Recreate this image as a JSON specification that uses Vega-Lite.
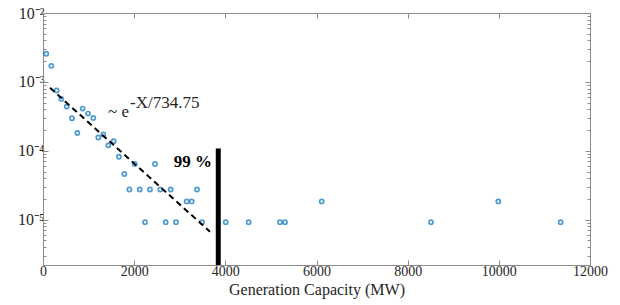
{
  "$schema": "https://vega.github.io/schema/vega-lite/v6.json",
  "width": 547,
  "height": 252,
  "autosize": {"type": "none"},
  "padding": {"left": 43, "top": 13, "right": 30, "bottom": 40},
  "background": "white",
  "config": {
    "view": {"stroke": null},
    "axis": {
      "domainColor": "#8c8c8c",
      "tickColor": "#8c8c8c",
      "labelColor": "#262626",
      "titleColor": "#262626",
      "labelFont": "Liberation Serif",
      "titleFont": "Liberation Serif",
      "grid": false
    }
  },
  "datasets": {
    "pts": [
      {"capacity": 72, "prob": 0.00256},
      {"capacity": 182, "prob": 0.00171},
      {"capacity": 300, "prob": 0.00075},
      {"capacity": 402, "prob": 0.000566},
      {"capacity": 519, "prob": 0.000438},
      {"capacity": 636, "prob": 0.000297},
      {"capacity": 753, "prob": 0.000182},
      {"capacity": 870, "prob": 0.00041},
      {"capacity": 987, "prob": 0.000347},
      {"capacity": 1104, "prob": 0.0003},
      {"capacity": 1213, "prob": 0.000156},
      {"capacity": 1323, "prob": 0.000173},
      {"capacity": 1433, "prob": 0.00012},
      {"capacity": 1550, "prob": 0.000138},
      {"capacity": 1667, "prob": 0.000082},
      {"capacity": 1784, "prob": 0.000046},
      {"capacity": 2011, "prob": 0.0000645},
      {"capacity": 2457, "prob": 0.0000645},
      {"capacity": 1894, "prob": 0.0000274},
      {"capacity": 2121, "prob": 0.0000274},
      {"capacity": 2347, "prob": 0.0000274},
      {"capacity": 2573, "prob": 0.0000274},
      {"capacity": 2801, "prob": 0.0000274},
      {"capacity": 3378, "prob": 0.0000274},
      {"capacity": 3152, "prob": 0.0000184},
      {"capacity": 3261, "prob": 0.0000184},
      {"capacity": 2238, "prob": 0.0000092},
      {"capacity": 2691, "prob": 0.0000092},
      {"capacity": 2917, "prob": 0.0000092},
      {"capacity": 3488, "prob": 0.0000092},
      {"capacity": 4008, "prob": 0.0000092},
      {"capacity": 4512, "prob": 0.0000092},
      {"capacity": 5199, "prob": 0.0000092},
      {"capacity": 5309, "prob": 0.0000092},
      {"capacity": 6114, "prob": 0.0000184},
      {"capacity": 8512, "prob": 0.0000092},
      {"capacity": 9988, "prob": 0.0000184},
      {"capacity": 11357, "prob": 0.0000092}
    ],
    "fit": [
      {"capacity": 154, "prob": 0.00082},
      {"capacity": 3664, "prob": 0.0000067}
    ],
    "bar": [
      {"capacity": 3845, "prob": 0.000108, "prob2": 0.0000022}
    ]
  },
  "layer": [
    {
      "data": {"name": "pts"},
      "mark": {"type": "point", "filled": false, "stroke": "#0072BD", "strokeWidth": 1.7, "size": 17},
      "encoding": {
        "x": {
          "field": "capacity", "type": "quantitative",
          "scale": {"domain": [0, 12000], "nice": false, "zero": false},
          "axis": {
            "orient": "bottom",
            "values": [0, 2000, 4000, 6000, 8000, 10000, 12000],
            "format": "d",
            "title": "Generation Capacity (MW)",
            "labelFont": "Liberation Serif",
            "titleFont": "Liberation Serif",
            "labelFontSize": 14,
            "titleFontSize": 16,
            "titleFontWeight": "normal",
            "tickSize": -5,
            "labelPadding": 4,
            "titlePadding": 3,
            "labelFlush": false,
            "labelOverlap": false
          }
        },
        "y": {
          "field": "prob", "type": "quantitative",
          "scale": {"type": "log", "domain": [0.0000022, 0.01], "nice": false},
          "axis": {
            "orient": "left",
            "title": null,
            "values": [0.000003, 0.000004, 0.000005, 0.000006, 0.000007, 0.000008, 0.000009, 0.00001, 0.00002, 0.00003, 0.00004, 0.00005, 0.00006, 0.00007, 0.00008, 0.00009, 0.0001, 0.0002, 0.0003, 0.0004, 0.0005, 0.0006, 0.0007, 0.0008, 0.0009, 0.001, 0.002, 0.003, 0.004, 0.005, 0.006, 0.007, 0.008, 0.009, 0.01],
            "labelExpr": "abs(log(datum.value)/LN10 - round(log(datum.value)/LN10)) < 0.001 ? '10⁻' + ['⁰','¹','²','³','⁴','⁵','⁶','⁷','⁸','⁹'][-round(log(datum.value)/LN10)] : ''",
            "labelFont": "Liberation Serif",
            "labelFontSize": 16,
            "labelOverlap": false,
            "labelFlush": false,
            "labelPadding": 4,
            "tickSize": {"condition": {"test": "abs(log(datum.value)/LN10 - round(log(datum.value)/LN10)) < 0.001", "value": -5}, "value": -3}
          }
        }
      }
    },
    {
      "data": {"name": "fit"},
      "mark": {"type": "line", "color": "black", "strokeWidth": 2, "strokeDash": [6, 4]},
      "encoding": {
        "x": {"field": "capacity", "type": "quantitative", "axis": null},
        "y": {"field": "prob", "type": "quantitative", "axis": null}
      }
    },
    {
      "data": {"name": "bar"},
      "mark": {"type": "rule", "color": "black", "strokeWidth": 5},
      "encoding": {
        "x": {
          "field": "capacity", "type": "quantitative",
          "axis": {"orient": "top", "title": null, "labels": false, "values": [0, 2000, 4000, 6000, 8000, 10000, 12000], "tickSize": -5}
        },
        "y": {
          "field": "prob", "type": "quantitative",
          "axis": {
            "orient": "right", "title": null, "labels": false,
            "values": [0.000003, 0.000004, 0.000005, 0.000006, 0.000007, 0.000008, 0.000009, 0.00001, 0.00002, 0.00003, 0.00004, 0.00005, 0.00006, 0.00007, 0.00008, 0.00009, 0.0001, 0.0002, 0.0003, 0.0004, 0.0005, 0.0006, 0.0007, 0.0008, 0.0009, 0.001, 0.002, 0.003, 0.004, 0.005, 0.006, 0.007, 0.008, 0.009, 0.01],
            "tickSize": {"condition": {"test": "abs(log(datum.value)/LN10 - round(log(datum.value)/LN10)) < 0.001", "value": -5}, "value": -3}
          }
        },
        "y2": {"field": "prob2"}
      }
    },
    {
      "data": {"values": [{"capacity": 3707, "prob": 0.0000575, "label": "99 %"}]},
      "mark": {"type": "text", "font": "Liberation Serif", "fontSize": 17, "fontWeight": "bold", "align": "right", "baseline": "alphabetic", "color": "black"},
      "encoding": {
        "x": {"field": "capacity", "type": "quantitative", "axis": null},
        "y": {"field": "prob", "type": "quantitative", "axis": null},
        "text": {"field": "label"}
      }
    },
    {
      "data": {"values": [{"capacity": 1426, "prob": 0.000314, "label": "~ e"}]},
      "mark": {"type": "text", "font": "Liberation Serif", "fontSize": 17, "align": "left", "baseline": "alphabetic", "color": "#262626"},
      "encoding": {
        "x": {"field": "capacity", "type": "quantitative", "axis": null},
        "y": {"field": "prob", "type": "quantitative", "axis": null},
        "text": {"field": "label"}
      }
    },
    {
      "data": {"values": [{"capacity": 1909, "prob": 0.000424, "label": "-X/734.75"}]},
      "mark": {"type": "text", "font": "Liberation Serif", "fontSize": 17, "align": "left", "baseline": "alphabetic", "color": "#262626"},
      "encoding": {
        "x": {"field": "capacity", "type": "quantitative", "axis": null},
        "y": {"field": "prob", "type": "quantitative", "axis": null},
        "text": {"field": "label"}
      }
    }
  ],
  "resolve": {"axis": {"x": "independent", "y": "independent"}}
}
